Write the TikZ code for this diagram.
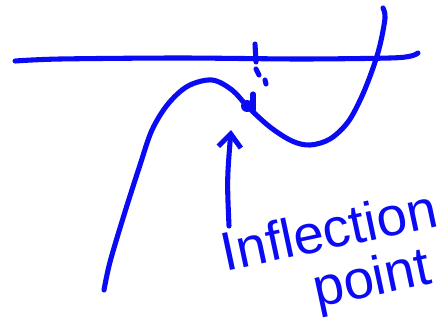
\documentclass[tikz,border=0pt]{standalone}
\usepackage{fontspec}
\setmainfont{Liberation Sans}
\usetikzlibrary{arrows.meta}
\definecolor{pen}{RGB}{10,10,245}
\tikzset{
  ink/.style={draw=pen, line width=3.8pt, line cap=round, line join=round},
  label/.style={text=pen, font=\fontsize{41}{41}\selectfont, inner sep=0pt, align=left}
}
\begin{document}
\begin{tikzpicture}[x=0.75pt,y=-0.75pt]
\useasboundingbox (0,0) rectangle (448,328);
% axis
\draw[ink] plot[smooth,tension=0.5] coordinates {(15,61) (60,59) (180,58) (300,59) (390,58) (411,56) (418,53)};
% dashed vertical through inflection
\draw[ink] (255,44) -- (256,62);
\draw[ink] (256,69) -- (259,75);
\draw[ink] (265,80) -- (266,84);
\draw[ink] (253,94) -- (253,110);
% cubic curve
\draw[ink] plot[smooth,tension=0.55] coordinates {(104,290) (110,262) (124,215) (140,165) (152,130) (168,104) (188,86) (212,80) (232,90) (248,107) (270,127) (292,141) (310,145) (330,139) (348,122) (362,96) (373,68) (380,45) (385,18) (383,8)};
% inflection point
\coordinate (infl) at (247,106);
\fill[pen] (infl) circle (6);
% label
\node[label, rotate=12, anchor=base west] (lab) at (237,325) {Inflection\\\hspace{1.5em}point};
% arrow
\coordinate (arrstart) at (229,226);
\coordinate (arrtip) at (231,130);
\draw[ink, -{Straight Barb[length=10pt,width=17pt,line width=3.8pt]}] (arrstart) .. controls (227,180) .. (arrtip);
\end{tikzpicture}
\end{document}
